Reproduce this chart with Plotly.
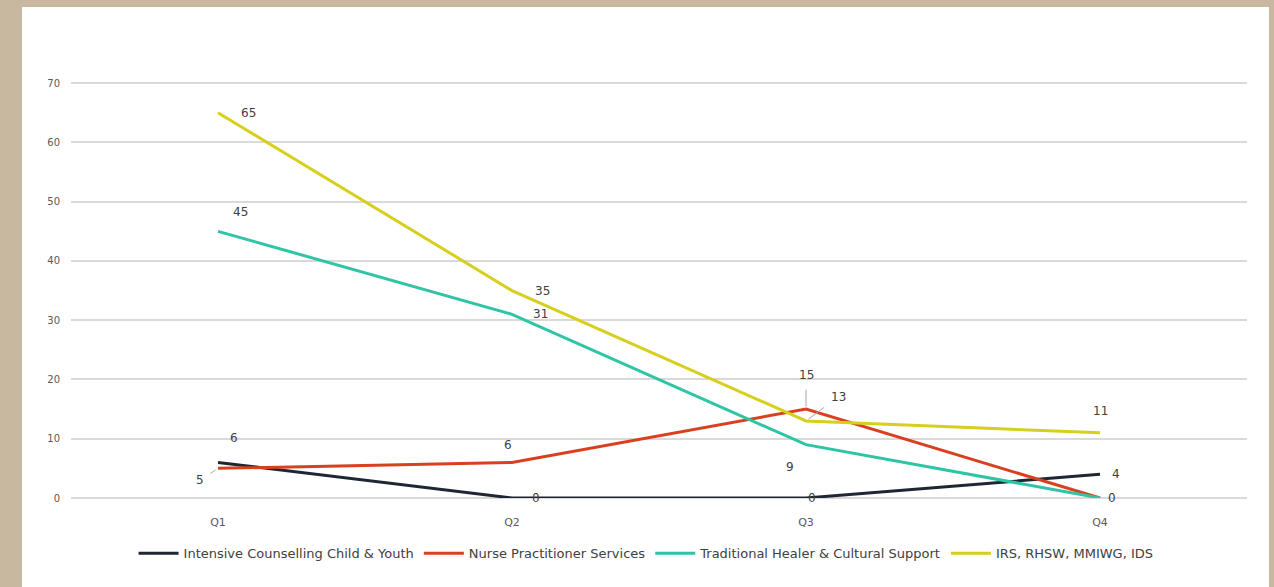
import plotly.graph_objects as go

quarters = ["Q1", "Q2", "Q3", "Q4"]
intensive_counselling = [6, 0, 0, 4]
nurse_practitioner = [5, 6, 15, 0]
traditional_healer = [45, 31, 9, 0]
irs_rhsw = [65, 35, 13, 11]

series = [
    ("Intensive Counselling Child & Youth", intensive_counselling, "#1e2733"),
    ("Nurse Practitioner Services", nurse_practitioner, "#d8401f"),
    ("Traditional Healer & Cultural Support", traditional_healer, "#2fc4a4"),
    ("IRS, RHSW, MMIWG, IDS", irs_rhsw, "#d6cf1e"),
]

# pixel offsets (ax, ay, arrow) of each data label, per series and quarter
label_offsets = [
    [(16, -24, False), (24, 0, False), (6, 0, False), (16, 0, False)],
    [(-18, 12, True), (-4, -17, False), (0, -34, True), None],
    [(22, -19, False), (28, 0, False), (-16, 22, False), (12, 0, False)],
    [(30, 0, False), (30, 0, False), (32, -24, True), (0, -22, False)],
]

fig = go.Figure()
for name, values, color in series:
    fig.add_trace(go.Scatter(
        x=quarters, y=values, name=name, mode="lines",
        line=dict(color=color, width=3),
    ))

annotations = []
for (name, values, color), offs in zip(series, label_offsets):
    for q, v, off in zip(quarters, values, offs):
        if off is None:
            continue
        ax, ay, arrow = off
        annotations.append(dict(
            x=q, y=v, xref="x", yref="y", text=str(v),
            showarrow=True, ax=ax, ay=ay,
            arrowcolor="#a6a6a6" if arrow else "rgba(0,0,0,0)",
            arrowwidth=1, arrowhead=0, standoff=3, startstandoff=6,
            font=dict(size=12, color="#404040"),
        ))

W, H = 1274, 587
L, R, T, B = 71, 27, 82, 89
pw, ph = W - L - R, H - T - B

def px_x(p):
    return (p - L) / pw

def px_y(p):
    return (H - B - p) / ph

fig.add_shape(type="rect", xref="paper", yref="paper",
              x0=px_x(22), x1=px_x(1269), y0=px_y(600), y1=px_y(7),
              fillcolor="white", line=dict(width=0), layer="below")

fig.update_layout(
    width=W, height=H,
    margin=dict(l=L, r=R, t=T, b=B),
    paper_bgcolor="#c8b8a0",
    plot_bgcolor="white",
    font=dict(family="DejaVu Sans, Verdana, sans-serif", size=11, color="#595959"),
    showlegend=True,
    legend=dict(orientation="h", x=0.489, xanchor="center", y=-0.133, yanchor="middle",
                font=dict(size=13, color="#404040"), bgcolor="rgba(0,0,0,0)",
                itemwidth=40, tracegroupgap=0),
    annotations=annotations,
)
fig.update_xaxes(range=[-0.5, 3.5], showgrid=False, showline=False, zeroline=False, ticks="",
                 ticklabelstandoff=16, tickfont=dict(size=11, color="#595959"))
fig.update_yaxes(range=[0, 70.2], dtick=10, showgrid=True, gridcolor="#d9d9d9",
                 gridwidth=1.5, zeroline=True, zerolinecolor="#d9d9d9", zerolinewidth=1.5,
                 showline=False, ticks="", ticklabelstandoff=10,
                 tickfont=dict(size=10, color="#595959"))

fig.write_html("out.html")
